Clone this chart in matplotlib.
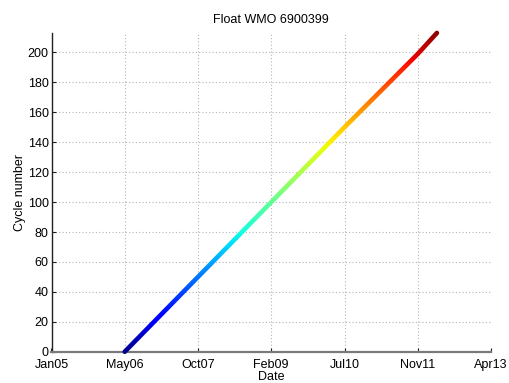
import numpy as np
import matplotlib
matplotlib.use("Agg")
import matplotlib.pyplot as plt
import matplotlib.dates as mdates
from matplotlib.path import Path
from matplotlib.patches import PathPatch
import datetime as dt

plt.rcParams['font.family'] = ['Liberation Sans', 'DejaVu Sans']

# Float WMO 6900399: profile date at selected cycle numbers
cycle_dates = ["2006-05-18", "2007-10-02", "2009-02-15", "2010-07-02", "2011-11-16", "2012-03-26"]
cycle_numbers = [0, 50, 100, 150, 199, 213]

x_tick_dates = ["2005-01-01", "2006-05-18", "2007-10-02", "2009-02-15",
                "2010-07-02", "2011-11-16", "2013-04-01"]
x_tick_labels = ["Jan05", "May06", "Oct07", "Feb09", "Jul10", "Nov11", "Apr13"]
y_ticks = [0, 20, 40, 60, 80, 100, 120, 140, 160, 180, 200]

W, H = 509, 383
fig = plt.figure(figsize=(W / 100, H / 100), dpi=100)
ax = fig.add_axes([51.5 / W, (H - 351.7) / H, (491 - 51.5) / W, (351.7 - 33) / H])

xt = mdates.date2num([dt.datetime.fromisoformat(d) for d in x_tick_dates])
xd = mdates.date2num([dt.datetime.fromisoformat(d) for d in cycle_dates])
yd = np.asarray(cycle_numbers, dtype=float)

ax.set_xlim(xt[0], xt[-1])
ax.set_ylim(0, max(cycle_numbers))
ax.set_xticks(xt)
ax.set_xticklabels(x_tick_labels)
ax.set_yticks(y_ticks)

# grid and axes styling
ax.grid(True, color='#b4b4b4', linestyle=(0, (1, 2)), linewidth=0.8)
ax.set_axisbelow(True)
for s in ('top', 'right'):
    ax.spines[s].set_visible(False)
ax.spines['left'].set_color('#202020')
ax.spines['left'].set_linewidth(1.0)
ax.spines['bottom'].set_color('#7a7a7a')
ax.spines['bottom'].set_linewidth(1.6)
ax.tick_params(direction='in', length=3, width=0.8, labelsize=9,
               colors='#202020', labelcolor='black')
ax.tick_params(axis='x', pad=5)
ax.tick_params(axis='y', pad=2)

ax.set_title("Float WMO 6900399", fontsize=9, pad=7)
ax.set_xlabel("Date", fontsize=9, labelpad=0)
ax.set_ylabel("Cycle number", fontsize=9, labelpad=1)

# thick track stroke (in display space) used to clip a jet gradient by cycle number
fig.canvas.draw()
pts = ax.transData.transform(np.column_stack([xd, yd]))
half = 2.3
d = np.diff(pts, axis=0)
seg_n = np.column_stack([-d[:, 1], d[:, 0]]) / np.hypot(d[:, 0], d[:, 1])[:, None]
vn = np.vstack([seg_n[0], (seg_n[:-1] + seg_n[1:]) / 2, seg_n[-1]])
vn /= np.hypot(vn[:, 0], vn[:, 1])[:, None]
left = pts + half * vn
right = pts - half * vn

def cap(center, normal):
    base = np.arctan2(normal[1], normal[0])
    angs = base - np.linspace(0, np.pi, 16)
    return center + half * np.column_stack([np.cos(angs), np.sin(angs)])

end_cap = cap(pts[-1], vn[-1])
start_cap = cap(pts[0], -vn[0])
poly = np.vstack([left, end_cap, right[::-1], start_cap])
poly_data = ax.transData.inverted().transform(poly)
clip = PathPatch(Path(poly_data, closed=True), transform=ax.transData,
                 facecolor='none', edgecolor='none')

grad = np.linspace(yd.min(), yd.max(), 512)[:, None]
pad_x = (xd.max() - xd.min()) * 0.02
im = ax.imshow(grad, cmap='jet', origin='lower', aspect='auto',
               extent=[xd.min() - pad_x, xd.max() + pad_x, yd.min() - 3, yd.max() + 3],
               vmin=yd.min(), vmax=yd.max(), interpolation='bilinear', zorder=3)
im.set_clip_box(fig.bbox)
im.set_clip_path(clip)
ax.set_xlim(xt[0], xt[-1])
ax.set_ylim(0, max(cycle_numbers))

fig.savefig("out.png", dpi=100)
